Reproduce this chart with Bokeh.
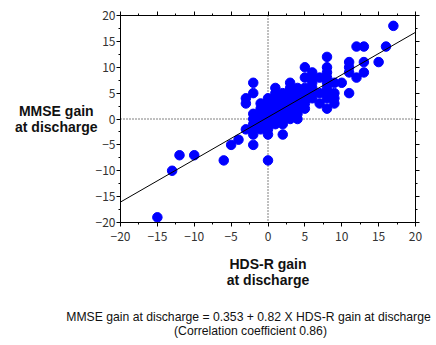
from bokeh.plotting import figure
from bokeh.layouts import column
from bokeh.models import (LinearAxis, SingleIntervalTicker, Span, Range1d, ColumnDataSource,
                          CustomJSTickFormatter)
from bokeh.core.properties import value
from bokeh.embed import file_html
from bokeh.resources import INLINE

# ---- data ----
hdsr_gain = [-15, -13, -12, -10, -6, -5, -4, -3, -2, -2, 0, 0, 2,
             -2, -2, -3, -3,
             -2, -2, -2, -2,
             -1, -1, -1, -1, -1, -1,
             0, 0, 0, 0, 0, 0, 0,
             1, 1, 1, 1, 1, 1, 1, 1,
             2, 2, 2, 2, 2, 2, 2,
             3, 3, 3, 3, 3, 3, 3, 3,
             4, 4, 4, 4, 4, 4, 4,
             5, 5, 5, 5, 5, 5, 5,
             6, 6, 6, 6, 6, 6,
             7, 7, 7,
             8, 8, 8, 8, 8, 8, 8, 8, 8,
             9, 9, 9, 9,
             10,
             11, 11, 11, 11,
             12, 12,
             13, 13, 13,
             15, 16, 17]
mmse_gain = [-19, -10, -7, -7, -8, -5, -4, -2, -5, -3, -8, -3, -3,
             7, 5, 4, 3,
             -2, -1, 0, 1,
             -2, -1, 0, 1, 2, 3,
             -2, -1, 0, 1, 2, 3, 4,
             -1, 0, 1, 2, 3, 4, 5, 6,
             -1, 0, 1, 2, 3, 4, 5,
             0, 1, 2, 3, 4, 5, 6, 7,
             0, 1, 2, 3, 4, 5, 6,
             2, 3, 4, 5, 6, 8, 10,
             4, 5, 6, 7, 8, 9,
             3, 5, 8,
             2, 4, 5, 6, 7, 8, 9, 10, 12,
             3, 4, 5, 7,
             7,
             5, 9, 10, 11,
             8, 14,
             9, 11, 14,
             11, 14, 18]

intercept = 0.353
slope = 0.82
correlation = 0.86
axis_min, axis_max = -20, 20
tick_step = 5

y_label = "MMSE gain\u00a0\nat discharge"
x_label = "HDS-R gain\nat discharge"
formula_text = "MMSE gain at discharge = {} + {} X HDS-R gain at discharge".format(intercept, slope)
corr_text = "(Correlation coefficient {})".format(correlation)

W = 436
H_MAIN = 300
H_NOTE = 45

# ---- main figure ----
p = figure(width=W, height=H_MAIN, output_backend="svg", toolbar_location=None,
           x_range=Range1d(axis_min, axis_max), y_range=Range1d(axis_min, axis_max),
           min_border_left=120, min_border_right=21, min_border_top=15, min_border_bottom=78,
           frame_align=False)
p.xgrid.visible = False
p.ygrid.visible = False
p.outline_line_color = "black"
p.outline_line_width = 1
p.outline_line_alpha = 1.0
p.background_fill_color = "white"
p.border_fill_color = "white"

tick_font = "Noto Sans CJK JP"
bold_font = "Liberation Sans"

def style_axis(ax, labels=True):
    ax.ticker = SingleIntervalTicker(interval=tick_step, num_minor_ticks=2)
    ax.axis_line_color = "black"
    ax.axis_line_width = 1
    ax.major_tick_line_color = "black"
    ax.minor_tick_line_color = "black"
    ax.major_tick_out = 4
    ax.major_tick_in = 0
    ax.minor_tick_out = 2
    ax.minor_tick_in = 0
    if labels:
        ax.major_label_text_font = tick_font
        ax.major_label_text_font_size = "12px"
        ax.major_label_text_color = "#333333"
        ax.axis_label_text_font = bold_font
        ax.axis_label_text_font_style = "bold"
        ax.axis_label_text_font_size = "14px"
        ax.axis_label_text_color = "#111111"
        ax.axis_label_text_line_height = 1.0
    else:
        ax.formatter = CustomJSTickFormatter(code="return ''")
        ax.major_label_standoff = 0

style_axis(p.xaxis[0])
style_axis(p.yaxis[0])
p.xaxis[0].major_label_standoff = 5
p.yaxis[0].major_label_standoff = 1
p.xaxis[0].axis_label = x_label
p.xaxis[0].axis_label_standoff = 12
p.yaxis[0].axis_label = y_label
p.yaxis[0].axis_label_orientation = "horizontal"
p.yaxis[0].axis_label_standoff = -5

top_ax = LinearAxis()
style_axis(top_ax, labels=False)
p.add_layout(top_ax, "above")
right_ax = LinearAxis()
style_axis(right_ax, labels=False)
p.add_layout(right_ax, "right")

# reference lines at zero
p.add_layout(Span(location=0, dimension="height", line_color="black", line_width=1,
                  line_dash="1 2", level="underlay"))
p.add_layout(Span(location=0, dimension="width", line_color="black", line_width=1,
                  line_dash="1 2", level="underlay"))

src = ColumnDataSource(dict(x=hdsr_gain, y=mmse_gain))
p.scatter("x", "y", source=src, size=9.5, fill_color="#0000FF", line_color="#0000FF")

fit_x = [axis_min, axis_max]
fit_y = [intercept + slope * v for v in fit_x]
p.line(fit_x, fit_y, line_color="black", line_width=1)

# ---- note panel (regression formula), pixel-like coordinates, y measured from top ----
n = figure(width=W, height=H_NOTE, output_backend="svg", toolbar_location=None,
           x_range=Range1d(0, W), y_range=Range1d(H_NOTE, 0),
           min_border=0, min_border_left=0, min_border_right=0,
           min_border_top=0, min_border_bottom=0, frame_align=False)
n.axis.visible = False
n.xgrid.visible = False
n.ygrid.visible = False
n.outline_line_color = None
n.background_fill_color = "white"
n.border_fill_color = "white"
note_src = ColumnDataSource(dict(x=[248, 250], y=[16, 30], t=[formula_text, corr_text]))
n.text("x", "y", text="t", source=note_src, text_font=value(bold_font),
       text_font_size="12.2px", text_align="center", text_baseline="middle",
       text_color="#111111")

open("out.html", "w").write(file_html(column(p, n), INLINE))
